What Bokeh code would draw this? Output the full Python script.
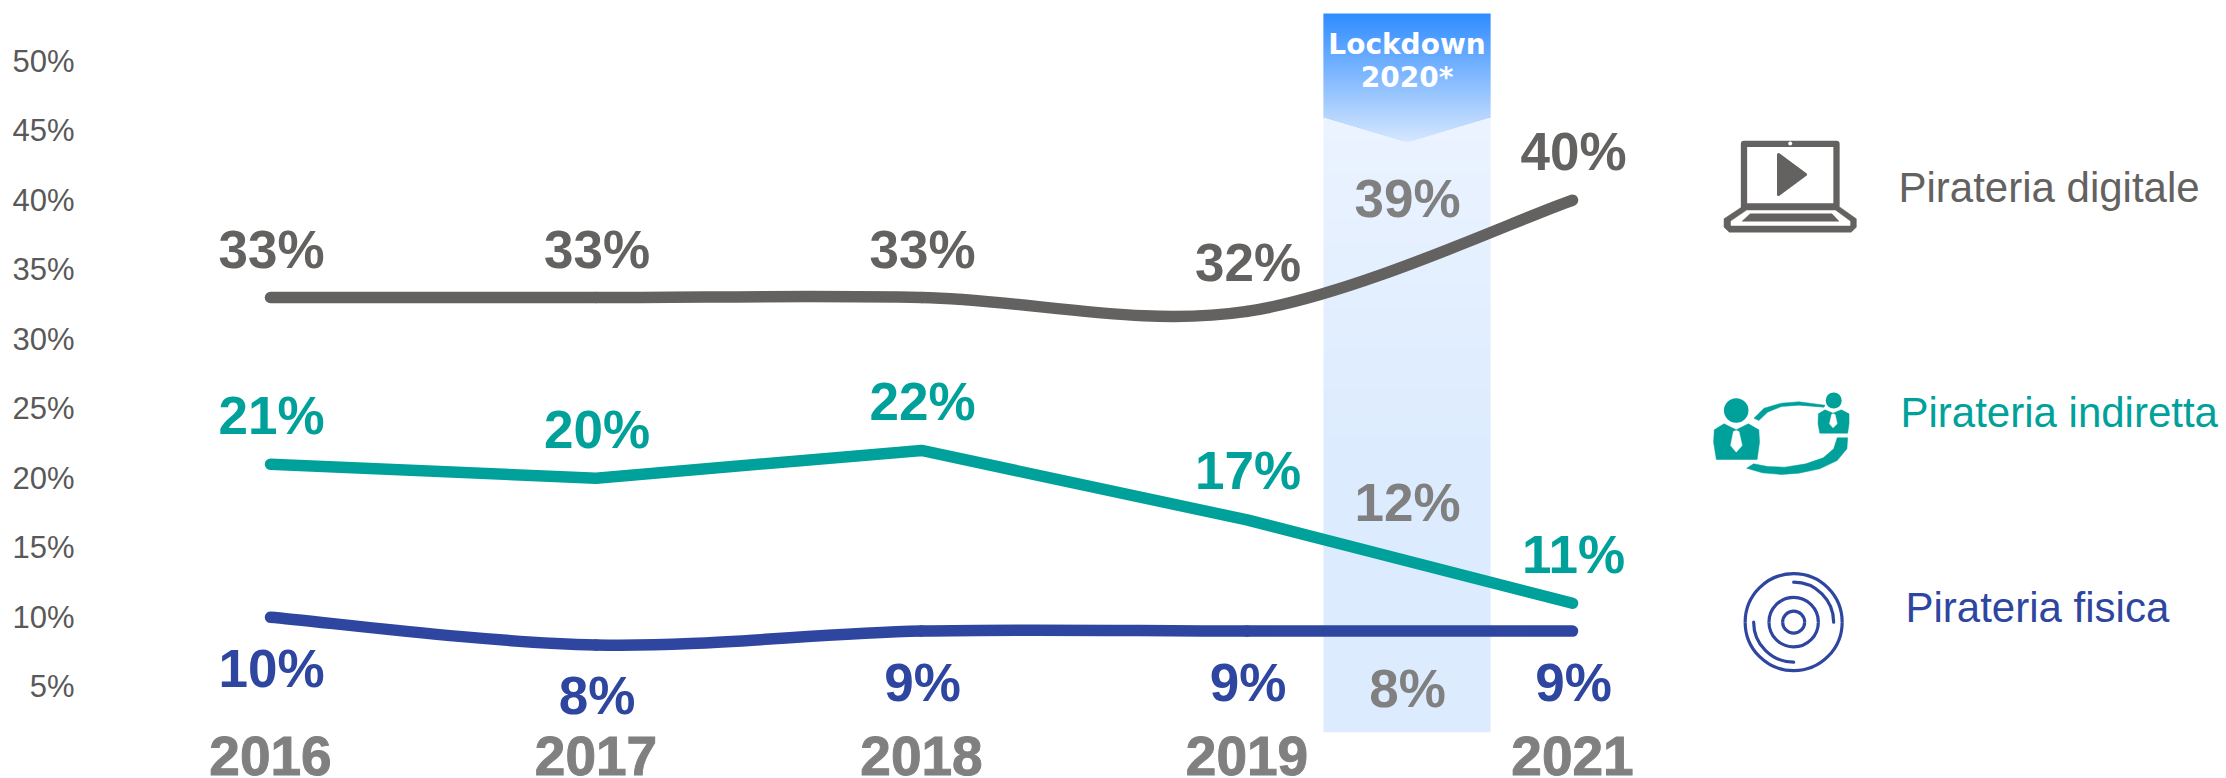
from bokeh.plotting import figure
from bokeh.models import Range1d, FixedTicker, ColumnDataSource
from bokeh.core.properties import value
from bokeh.embed import file_html
from bokeh.resources import INLINE

# ---- data
years = ["2016", "2017", "2018", "2019", "2021"]
digitale = [33, 33, 33, 32, 40]
indiretta = [21, 20, 22, 17, 11]
fisica = [10, 8, 9, 9, 9]
lockdown_year = "2020"
lockdown_values = [39, 12, 8]
y_ticks = [5, 10, 15, 20, 25, 30, 35, 40, 45, 50]
legend_names = ["Pirateria digitale", "Pirateria indiretta", "Pirateria fisica"]

# ---- styles
GREY, TEAL, BLUE = "#636260", "#00A19A", "#2E46A0"
LIGHT = "#808080"
FONT = value("Liberation Sans")
LW = 11.5

# page-pixel geometry of the reference
PX_X0, PX_XSTEP = 270.0, 325.5
PX_Y0, PX_YUNIT = 755.7, 13.9
FRAME_L, FRAME_R, FRAME_T, FRAME_B = 90, 2226, 8, 732
def X(px): return (px - PX_X0) / PX_XSTEP
def Y(py): return (PX_Y0 - py) / PX_YUNIT

p = figure(width=2226, height=778, output_backend="svg", toolbar_location=None,
           frame_width=FRAME_R - FRAME_L, frame_height=FRAME_B - FRAME_T,
           x_range=Range1d(X(FRAME_L), X(FRAME_R)), y_range=Range1d(Y(FRAME_B), Y(FRAME_T)),
           min_border_left=FRAME_L, min_border_right=0, min_border_top=FRAME_T, min_border_bottom=0,
           outline_line_color=None, background_fill_color="white", border_fill_color="white")
p.grid.visible = False

xs = list(range(len(years)))

# ---- axes
ya = p.yaxis[0]
ya.ticker = FixedTicker(ticks=y_ticks)
ya.major_label_overrides = {v: f"{v}%" for v in y_ticks}
ya.axis_line_color = None
ya.major_tick_line_color = None
ya.minor_tick_line_color = None
ya.major_label_text_font = "Liberation Sans"
ya.major_label_text_font_size = "31px"
ya.major_label_text_color = "#595959"
ya.major_label_standoff = 10

xa = p.xaxis[0]
xa.ticker = FixedTicker(ticks=xs)
xa.major_label_overrides = {i: y for i, y in enumerate(years)}
xa.axis_line_color = None
xa.major_tick_line_color = None
xa.minor_tick_line_color = None
xa.major_label_text_font = "Liberation Sans"
xa.major_label_text_font_style = "bold"
xa.major_label_text_font_size = "55px"
xa.major_label_text_color = LIGHT
xa.major_label_text_outline_color = LIGHT
xa.major_label_standoff = -2

# ---- lockdown band (gradient built from thin strips)
def mix(a, b, t):
    return "#%02x%02x%02x" % tuple(round(a[i] + (b[i] - a[i]) * t) for i in range(3))

BL, BR, BT, BS, BTIP = 1323, 1490, 13, 116, 141
cx = (BL + BR) / 2
hw = (BR - BL) / 2
le, ri, to, bo, co = [], [], [], [], []
step = 8
for py in range(BS, FRAME_B, step):
    le.append(X(BL)); ri.append(X(BR)); to.append(Y(py)); bo.append(Y(min(py + step + 1, FRAME_B)))
    co.append(mix((0xEB, 0xF3, 0xFF), (0xDC, 0xEB, 0xFE), min(1, (py - BS) / 334)))
for py in range(BT, BTIP):
    w = hw if py <= BS else hw * (BTIP - py) / (BTIP - BS)
    le.append(X(cx - w)); ri.append(X(cx + w)); to.append(Y(py)); bo.append(Y(py + 1.4 if py + 1 < BTIP else py + 1))
    co.append(mix((0x30, 0x8C, 0xFF), (0xD6, 0xE7, 0xFE), (py - BT) / (BTIP - BT)))
p.quad(left=le, right=ri, top=to, bottom=bo, fill_color=co, line_color=None)

p.text([X(cx)], [Y(44)], text=["Lockdown"], text_font=value("DejaVu Sans"), text_font_style="bold",
       text_font_size="28px", text_color="white", text_align="center", text_baseline="middle")
p.text([X(cx)], [Y(77)], text=[lockdown_year + "*"], text_font=value("DejaVu Sans"), text_font_style="bold",
       text_font_size="28px", text_color="white", text_align="center", text_baseline="middle")

# ---- series
def smooth(ys, **kw):
    n = len(ys)
    d = dict(x0=[], y0=[], x1=[], y1=[], cx0=[], cy0=[], cx1=[], cy1=[])
    for i in range(n - 1):
        a, b = max(i - 1, 0), min(i + 2, n - 1)
        d["x0"].append(i); d["y0"].append(ys[i]); d["x1"].append(i + 1); d["y1"].append(ys[i + 1])
        d["cx0"].append(i + (i + 1 - a) / 6); d["cy0"].append(ys[i] + (ys[i + 1] - ys[a]) / 6)
        d["cx1"].append(i + 1 - (b - i) / 6); d["cy1"].append(ys[i + 1] - (ys[b] - ys[i]) / 6)
    p.bezier(x0="x0", y0="y0", x1="x1", y1="y1", cx0="cx0", cy0="cy0", cx1="cx1", cy1="cy1",
             source=ColumnDataSource(d), line_cap="round", **kw)

smooth(digitale, line_color=GREY, line_width=LW)
p.line(xs, indiretta, line_color=TEAL, line_width=LW, line_cap="round", line_join="round")
smooth(fisica, line_color=BLUE, line_width=LW)

# ---- value labels
def labels(vals, offsets, color, lx=None):
    p.text(lx if lx is not None else xs, vals, text=[f"{v}%" for v in vals], y_offset=offsets, x_offset=1,
           text_font=FONT, text_font_style="bold", text_font_size="53px", text_color=color,
           text_align="center", text_baseline="middle")

labels(digitale, [-48, -48, -48, -49, -49], GREY)
labels(indiretta, [-49, -49, -49, -49, -49], TEAL)
labels(fisica, [51, 50, 51, 51, 51], BLUE)
labels(lockdown_values, [-16, -87, 43], LIGHT, lx=[3.49, 3.49, 3.49])

# ---- legend texts
for name, px, py, col in zip(legend_names, [1898, 1900, 1905], [187, 412, 607], [GREY, TEAL, BLUE]):
    p.text([X(px)], [Y(py)], text=[name], text_font=FONT, text_font_size="42px", text_color=col,
           text_align="left", text_baseline="alphabetic")

# ---- icons: outlines noted on a grid anchored at (ox, oy)
KX, KY = 1 / 2.872, 1 / 3
def poly(pts, color, ox, oy):
    p.patch([X(ox + a * KX) for a, b in pts], [Y(oy + b * KY) for a, b in pts],
            fill_color=color, line_color=color, line_width=0.5, line_join="round")

# laptop
LX, LY = 1680, 110
p.patch([X(v) for v in (1743.5, 1836, 1836, 1743.5)], [Y(v) for v in (143.3, 143.3, 206, 206)],
        fill_color="white", line_color=GREY, line_width=6.3, line_join="round")
p.scatter([X(1789.7)], [Y(143)], size=4, marker="circle", fill_color="white", line_color=None)
p.patch([X(v) for v in (1778, 1805, 1778)], [Y(v) for v in (154, 174, 194)],
        fill_color=GREY, line_color=GREY, line_width=3, line_join="round")
poly([(175, 290), (458, 290), (505, 325), (505, 350), (490, 365), (140, 365), (125, 350), (125, 325)], GREY, LX, LY)
poly([(190, 300), (445, 300), (487, 332), (487, 345), (145, 345), (145, 332)], "white", LX, LY)
poly([(200, 310), (435, 310), (455, 332), (177, 332)], GREY, LX, LY)

# people
ZX, ZY = 1680, 370
poly([(125, 160), (160, 178), (195, 160), (225, 178), (227, 215), (220, 267), (103, 267), (95, 215), (97, 178)], TEAL, ZX, ZY)
poly([(160, 180), (168, 183), (177, 225), (160, 245), (144, 225), (152, 183)], "white", ZX, ZY)
p.scatter([X(ZX + 160 * KX)], [Y(ZY + 120 * KY)], size=24.5, marker="circle", fill_color=TEAL, line_color=None)
poly([(415, 118), (438, 128), (462, 118), (484, 130), (484, 160), (480, 188), (400, 188), (395, 160), (396, 130)], TEAL, ZX, ZY)
poly([(438, 130), (444, 132), (450, 160), (438, 172), (428, 160), (434, 132)], "white", ZX, ZY)
p.scatter([X(ZX + 440 * KX)], [Y(ZY + 90 * KY)], size=16, marker="circle", fill_color=TEAL, line_color=None)
poly([(211, 143), (240, 113), (290, 98), (340, 94), (415, 104), (412, 110), (340, 104), (290, 108), (250, 125), (225, 150)], TEAL, ZX, ZY)
poly([(450, 202), (480, 202), (478, 235), (450, 270), (400, 295), (340, 308), (290, 312), (235, 307), (190, 293), (210, 280), (250, 288), (300, 290), (360, 280), (410, 262), (440, 235)], TEAL, ZX, ZY)

# disc
DX, DY = [X(ZX + 325 * KX)], [Y(ZY + 755 * KY)]
for r in (48.5, 24.7, 11):
    p.arc(DX, DY, radius=r, radius_units="screen", start_angle=0, end_angle=3.1416, line_color=BLUE, line_width=3.2)
    p.arc(DX, DY, radius=r, radius_units="screen", start_angle=3.1416, end_angle=6.2831, line_color=BLUE, line_width=3.2)
p.arc(DX, DY, radius=40, radius_units="screen", start_angle=0, end_angle=1.5708, line_color=BLUE, line_width=3.2, line_cap="round")
p.arc(DX, DY, radius=40, radius_units="screen", start_angle=3.1416, end_angle=4.7124, line_color=BLUE, line_width=3.2, line_cap="round")

open("out.html", "w").write(file_html(p, INLINE))
